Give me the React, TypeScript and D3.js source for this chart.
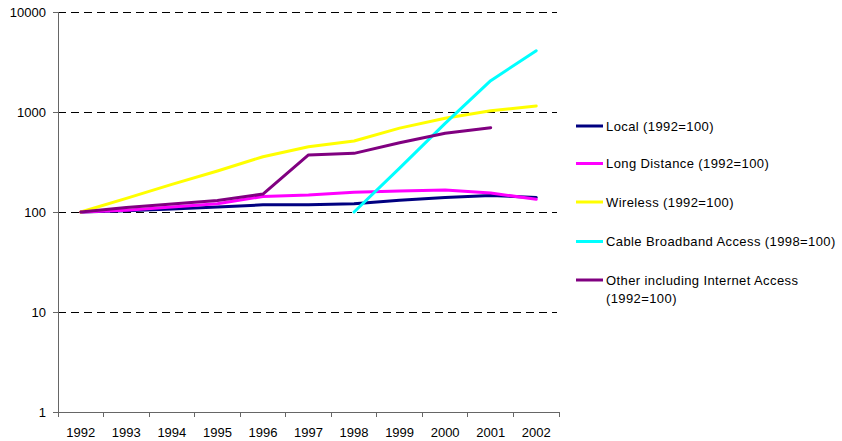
import React from "react";
import * as d3 from "d3";

const years = ["1992","1993","1994","1995","1996","1997","1998","1999","2000","2001","2002"];
const localVals: (number|null)[] = [100,103,107,112,118,118,121,131,140,146,140];
const longDistVals: (number|null)[] = [100,104,112,121,143,148,158,162,166,155,134];
const wirelessVals: (number|null)[] = [100,137,189,257,357,450,513,690,865,1030,1148];
const cableVals: (number|null)[] = [null,null,null,null,null,null,100,275,770,2057,4100];
const otherVals: (number|null)[] = [100,111,120,130,151,372,386,493,612,697,null];
const yTicks = [1,10,100,1000,10000];

const seriesNames = [
  "Local (1992=100)",
  "Long Distance (1992=100)",
  "Wireless (1992=100)",
  "Cable Broadband Access (1998=100)",
  "Other including Internet Access (1992=100)",
];
const seriesColors = ["#000080","#FF00FF","#FFFF00","#00FFFF","#800080"];
const seriesData = [localVals, longDistVals, wirelessVals, cableVals, otherVals];

export default function App() {
  const W = 842, H = 441;
  const left = 58, right = 559, top = 12, bottom = 412;
  const x = d3.scaleBand<string>().domain(years).range([left, right]);
  const y = d3.scaleLog().domain([1, 10000]).range([bottom, top]);
  const cx = (yr: string) => (x(yr) as number) + x.bandwidth() / 2;

  const line = d3.line<{yr: string; v: number | null}>()
    .defined(d => d.v != null)
    .x(d => cx(d.yr))
    .y(d => y(d.v as number));

  const font = "'Liberation Sans', Arial, sans-serif";
  const legendRows = [126, 163.5, 202, 241.5, 280];

  return (
    <svg width={W} height={H} style={{ position: "absolute", left: 0, top: 0 }}>
      <rect width={W} height={H} fill="#fff" />
      {yTicks.slice(1).map(t => (
        <line key={"g" + t} x1={left} x2={557} y1={y(t) + 0.5} y2={y(t) + 0.5}
          stroke="#000" strokeWidth={1} strokeDasharray="8,5" shapeRendering="crispEdges" />
      ))}
      {/* y axis */}
      <line x1={left} x2={left} y1={top} y2={bottom} stroke="#666" strokeWidth={1} shapeRendering="crispEdges" />
      {yTicks.map(t => (
        <g key={"yt" + t}>
          <line x1={left - 5} x2={left} y1={y(t) + 0.5} y2={y(t) + 0.5} stroke="#666" strokeWidth={1} shapeRendering="crispEdges" />
          <text x={46} y={y(t)} dy="0.36em" textAnchor="end" fontFamily={font} fontSize={13} fill="#000">{t}</text>
        </g>
      ))}
      {/* x axis */}
      <line x1={left} x2={right} y1={bottom + 0.5} y2={bottom + 0.5} stroke="#666" strokeWidth={1} shapeRendering="crispEdges" />
      {[...years.map(yr => x(yr) as number), right].map((p, i) => (
        <line key={"xt" + i} x1={p} x2={p} y1={bottom} y2={bottom + 5} stroke="#666" strokeWidth={1} shapeRendering="crispEdges" />
      ))}
      {years.map(yr => (
        <text key={"xl" + yr} x={cx(yr)} y={436.5} textAnchor="middle" fontFamily={font} fontSize={13} fill="#000">{yr}</text>
      ))}
      {seriesData.map((vals, i) => (
        <path key={"s" + i}
          d={line(years.map((yr, j) => ({ yr, v: vals[j] }))) || ""}
          fill="none" stroke={seriesColors[i]} strokeWidth={3} strokeLinejoin="round" strokeLinecap="round" />
      ))}
      {/* legend */}
      {seriesNames.map((name, i) => {
        const ly = legendRows[i];
        const parts = i === 4 ? ["Other including Internet Access", "(1992=100)"] : [name];
        return (
          <g key={"lg" + i}>
            <line x1={576} x2={603} y1={ly} y2={ly} stroke={seriesColors[i]} strokeWidth={3} />
            {parts.map((p, k) => (
              <text key={k} x={606} y={ly + k * 18} dy="0.36em" fontFamily={font} fontSize={13} letterSpacing={0.4} fill="#000">{p}</text>
            ))}
          </g>
        );
      })}
    </svg>
  );
}
